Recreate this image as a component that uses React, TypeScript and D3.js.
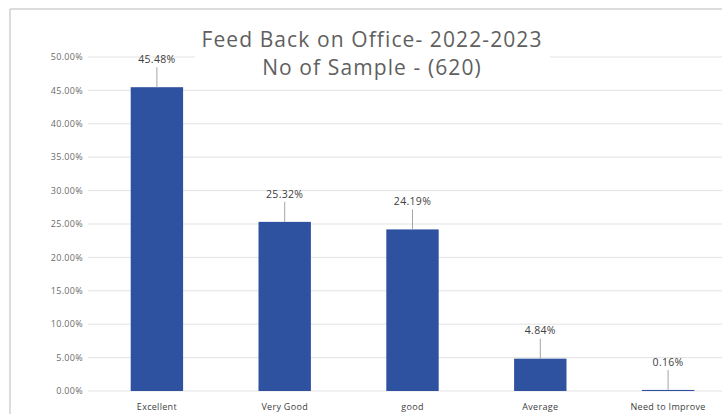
import React from "react";
import * as d3 from "d3";

const categories = ["Excellent", "Very Good", "good", "Average", "Need to Improve"];
const values = [45.48, 25.32, 24.19, 4.84, 0.16];
const valueLabels = ["45.48%", "25.32%", "24.19%", "4.84%", "0.16%"];
const yTicks = [0, 5, 10, 15, 20, 25, 30, 35, 40, 45, 50];
const titleLines = ["Feed Back on Office- 2022-2023", "No of Sample - (620)"];

const W = 722;
const H = 414;
const FONT = "'Open Sans', 'Noto Sans', sans-serif";

export default function App() {
  const x = d3.scaleBand<string>().domain(categories).range([93, 732]).paddingInner(0.59).paddingOuter(0.295);
  const y = d3.scaleLinear().domain([0, 50]).range([391, 57]);
  const bw = x.bandwidth();

  return (
    <svg width={W} height={H} style={{ position: "absolute", left: 0, top: 0, background: "#fff" }}>
      <rect x={0} y={0} width={W} height={H} fill="#fff" />
      <line x1={10} y1={9} x2={W} y2={9} stroke="#d0d0d0" strokeWidth={1.5} />
      <line x1={10} y1={9} x2={10} y2={H} stroke="#d0d0d0" strokeWidth={1.5} />
      {yTicks.map((t) => (
        <line key={t} x1={88} x2={W} y1={y(t)} y2={y(t)} stroke="#e3e3e3" strokeWidth={1} />
      ))}
      {yTicks.map((t) => (
        <text key={"l" + t} x={83} y={y(t)} dy="0.35em" textAnchor="end" fontSize={9} letterSpacing={0.3} fill="#6b6b6b" fontFamily={FONT}>
          {t.toFixed(2) + "%"}
        </text>
      ))}
      <rect x={195} y={22} width={355} height={62} fill="#fff" />
      <text x={372} y={47} textAnchor="middle" fontSize={21} letterSpacing={1.1} fill="#5f5f5f" fontFamily={FONT}>
        {titleLines[0]}
      </text>
      <text x={372} y={75} textAnchor="middle" fontSize={21} letterSpacing={1.1} fill="#5f5f5f" fontFamily={FONT}>
        {titleLines[1]}
      </text>
      {categories.map((c, i) => {
        const x0 = x(c)!;
        const top = y(values[i]);
        const cx = x0 + bw / 2;
        return (
          <g key={c}>
            <rect x={x0} y={top} width={bw} height={Math.max(1, y(0) - top)} fill="#2f52a0" />
            <line x1={cx} x2={cx} y1={top - 20} y2={top} stroke="#a6a6a6" strokeWidth={1} />
            <text x={cx} y={top - 28} dy="0.35em" textAnchor="middle" fontSize={10.5} letterSpacing={0.3} fill="#404040" fontFamily={FONT}>
              {valueLabels[i]}
            </text>
            <text x={cx} y={407} dy="0.35em" textAnchor="middle" fontSize={9} letterSpacing={0.3} fill="#404040" fontFamily={FONT}>
              {c}
            </text>
          </g>
        );
      })}
    </svg>
  );
}
